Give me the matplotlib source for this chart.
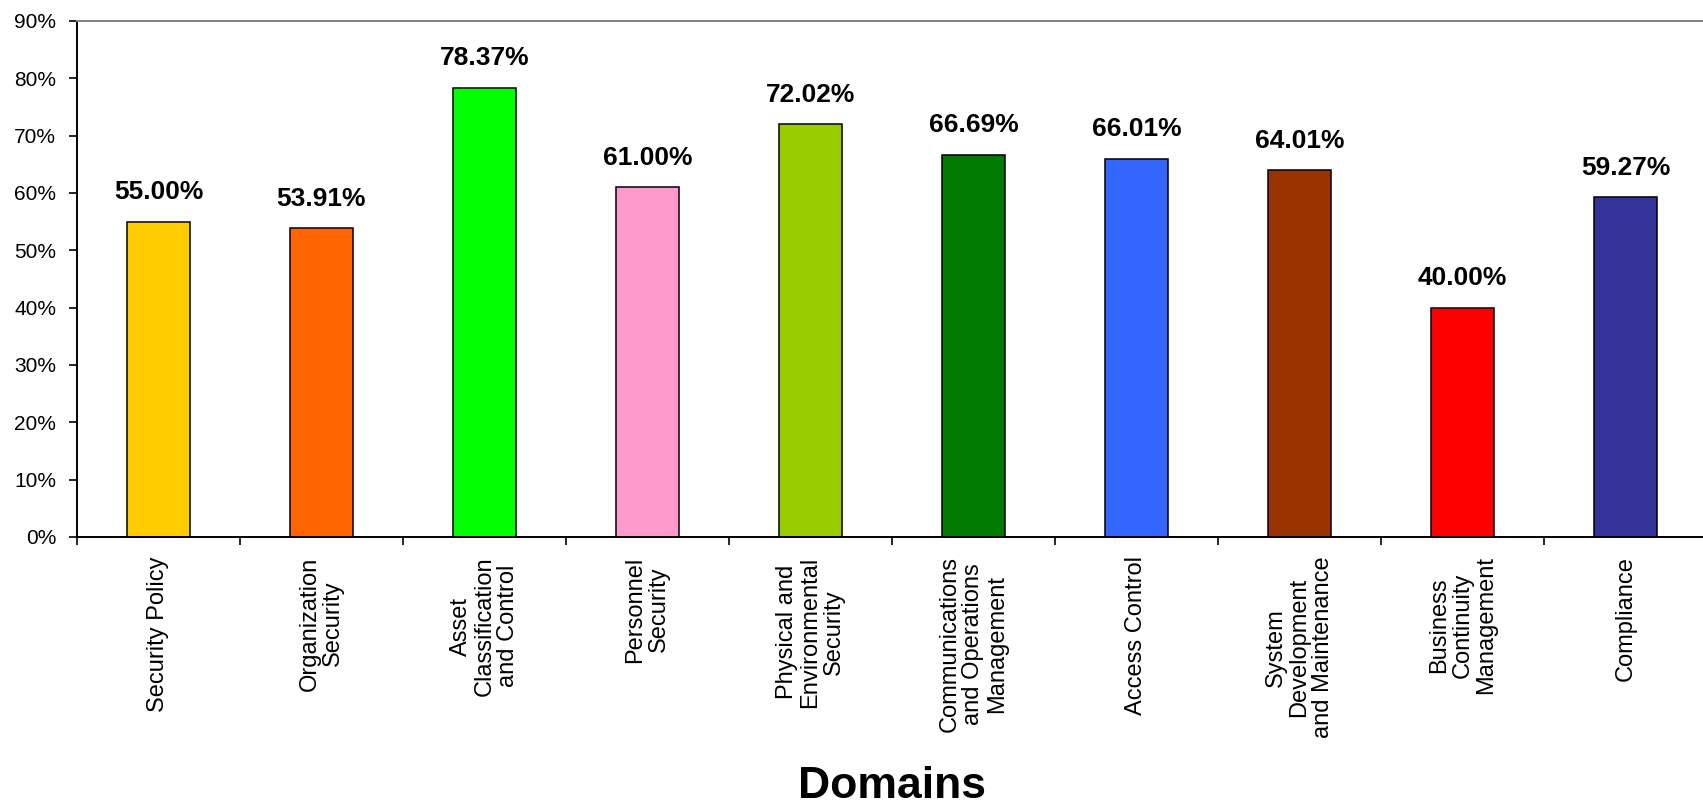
import matplotlib
matplotlib.use("Agg")
import matplotlib.pyplot as plt
import numpy as np

# data
domains = [
    "Security Policy",
    "Organization\nSecurity",
    "Asset\nClassification\nand Control",
    "Personnel\nSecurity",
    "Physical and\nEnvironmental\nSecurity",
    "Communications\nand Operations\nManagement",
    "Access Control",
    "System\nDevelopment\nand Maintenance",
    "Business\nContinuity\nManagement",
    "Compliance",
]
scores = [55.00, 53.91, 78.37, 61.00, 72.02, 66.69, 66.01, 64.01, 40.00, 59.27]
bar_colors = ["#FFCC00", "#FF6600", "#00FF00", "#FF99CC", "#99CC00",
              "#007A00", "#3366FF", "#993300", "#FF0000", "#333399"]
y_ticks = [0, 10, 20, 30, 40, 50, 60, 70, 80, 90]

plt.rcParams['font.family'] = ['Liberation Sans', 'DejaVu Sans']

fig = plt.figure(figsize=(17.03, 8.07), dpi=100)
ax = fig.add_axes([0.0452, 0.3346, 0.9571, 0.6394])

x = np.arange(len(domains))
ax.bar(x, scores, width=0.39, color=bar_colors, edgecolor="black", linewidth=1.1)

# value labels over the bars
for xi, v in zip(x, scores):
    ax.annotate(f"{v:.2f}%", (xi, v), xytext=(0, 21), textcoords="offset points",
                ha="center", va="center", fontsize=19, fontweight="bold")

ax.set_xlim(-0.5, len(domains) - 0.5)
ax.set_ylim(0, 90)
ax.set_yticks(y_ticks)
ax.set_yticklabels([f"{t}%" for t in y_ticks], fontsize=15)

# category labels on major ticks, tick marks between categories
ax.set_xticks(x)
ax.set_xticklabels(domains, rotation=90, fontsize=17, va="top", ha="center",
                   multialignment="center", linespacing=1.1)
ax.set_xticks(np.arange(-0.5, len(domains)), minor=True)
ax.tick_params(axis="x", which="major", length=0, pad=14)
ax.tick_params(axis="x", which="minor", length=6, width=1.2, direction="out")
ax.tick_params(axis="y", length=6, width=1.2, direction="out", pad=9)

for side in ["left", "bottom"]:
    ax.spines[side].set_color("black")
    ax.spines[side].set_linewidth(1.4)
ax.spines["top"].set_color("#808080")
ax.spines["top"].set_linewidth(1.4)
ax.spines["right"].set_visible(False)

fig.text(0.0452 + 0.9571 / 2, 0.025, "Domains", ha="center", va="center",
         fontsize=32, fontweight="bold")

fig.savefig("out.png", dpi=100)
